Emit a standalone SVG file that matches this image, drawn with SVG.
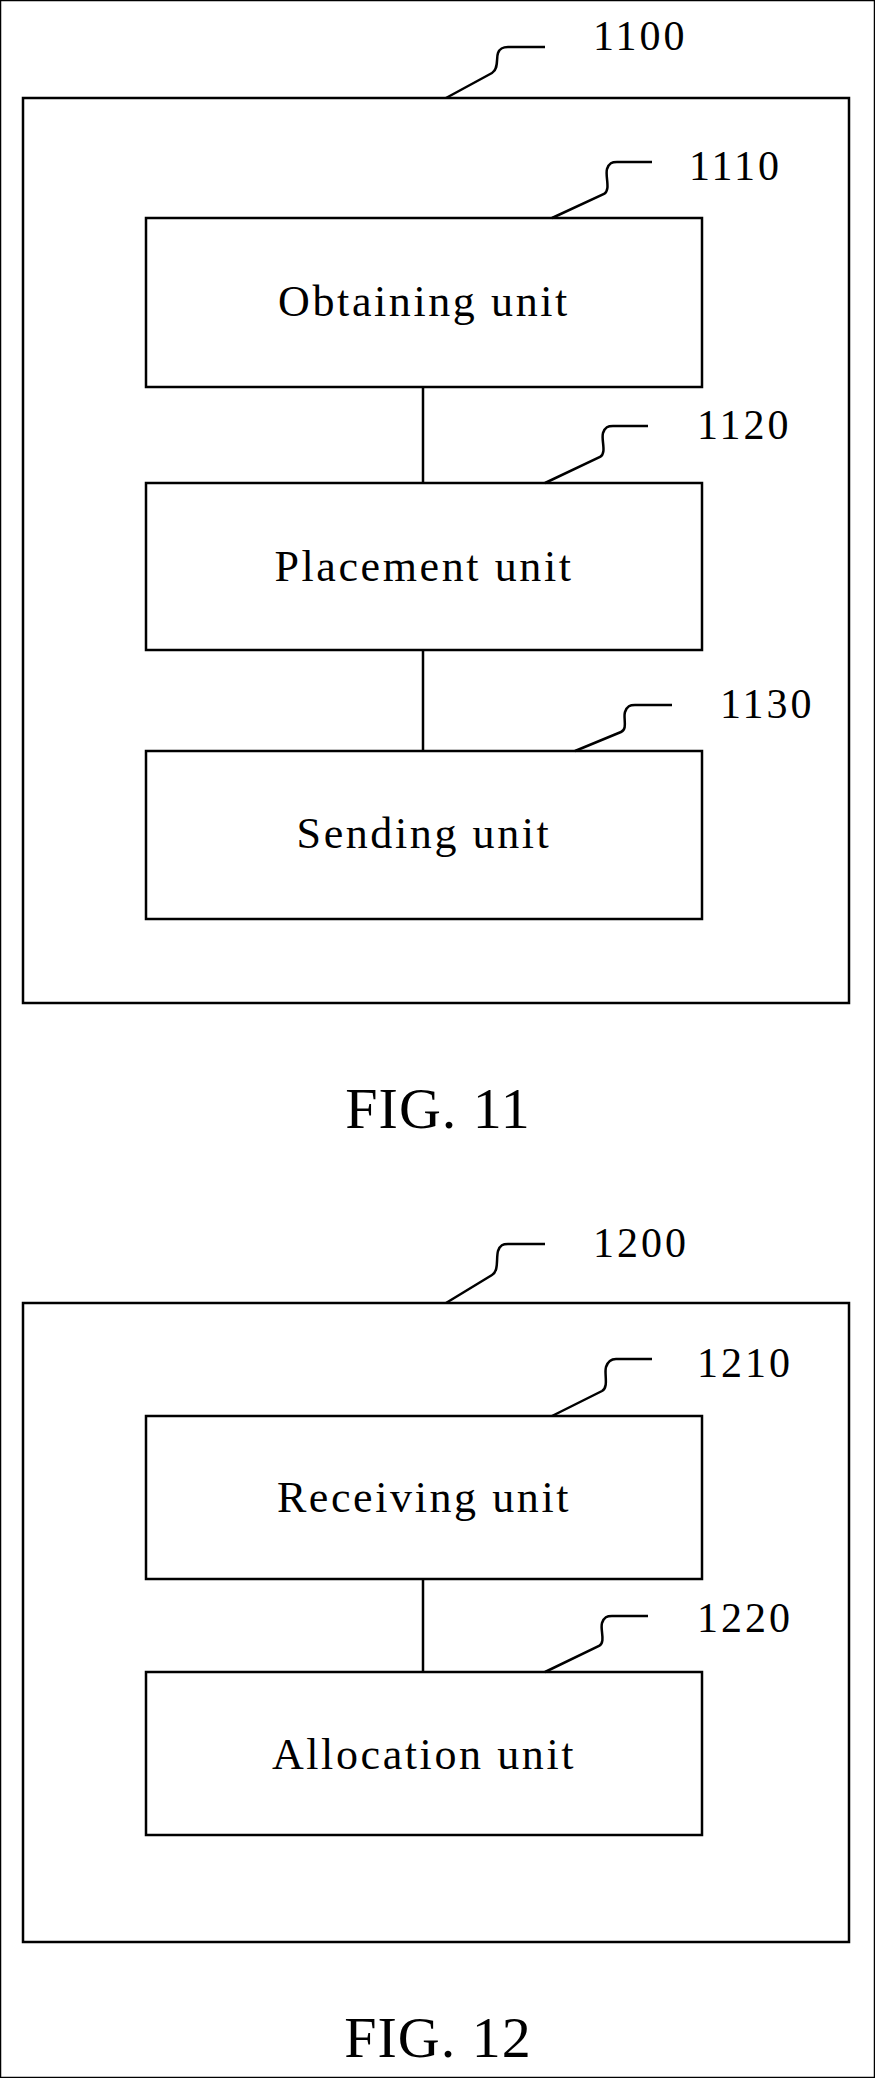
<svg xmlns="http://www.w3.org/2000/svg" width="875" height="2078" viewBox="0 0 875 2078">
<style>
rect{fill:#fff;stroke:#000;stroke-width:2.5}
path,line{fill:none;stroke:#000;stroke-width:2.5}
text{font-family:"Liberation Serif","Times New Roman",serif;fill:#000}
.l{font-size:44px;letter-spacing:2.6px;text-anchor:middle}
.n{font-size:42px;letter-spacing:3px}
.f{font-size:58px;letter-spacing:1px;text-anchor:middle}
</style>
<rect width="875" height="2078" fill="#fff" stroke="none"/>
<g id="n1100"><rect x="23" y="98" width="826" height="905"/>
<path d="M446,98 L492,73 C499,69 496,58 498,53 C500,48 503,47 508,47 L545,47"/><text class="n" x="593" y="50">1100</text></g>
<g id="n1110"><rect x="146" y="218" width="556" height="169"/><text class="l" x="424" y="316">Obtaining unit</text>
<path d="M552,218 L604,194 C611,190 605,176 607,169 C609,163 612,162 617,162 L652,162"/><text class="n" x="689" y="180">1110</text></g>
<g id="n1120"><rect x="146" y="483" width="556" height="167"/><text class="l" x="424" y="581">Placement unit</text>
<path d="M545,483 L600,457 C607,453 601,440 603,433 C605,427 608,426 613,426 L648,426"/><text class="n" x="697" y="439">1120</text></g>
<g id="n1130"><rect x="146" y="751" width="556" height="168"/><text class="l" x="424" y="848">Sending unit</text>
<path d="M575,751 L621,732 C628,729 623,718 625,712 C627,706 630,705 635,705 L672,705"/><text class="n" x="720" y="718">1130</text></g>
<text class="f" x="438" y="1128">FIG. 11</text>
<g id="n1200"><rect x="23" y="1303" width="826" height="639"/>
<path d="M446,1303 L492,1275 C499,1271 496,1258 498,1251 C500,1245 503,1244 508,1244 L545,1244"/><text class="n" x="593" y="1257">1200</text></g>
<g id="n1210"><rect x="146" y="1416" width="556" height="163"/><text class="l" x="424" y="1512">Receiving unit</text>
<path d="M552,1416 L602,1391 C609,1387 604,1374 606,1367 C608,1361 611,1359 616,1359 L652,1359"/><text class="n" x="697" y="1377">1210</text></g>
<g id="n1220"><rect x="146" y="1672" width="556" height="163"/><text class="l" x="424" y="1769">Allocation unit</text>
<path d="M545,1672 L599,1646 C606,1642 600,1630 602,1623 C604,1617 607,1616 612,1616 L648,1616"/><text class="n" x="697" y="1632">1220</text></g>
<text class="f" x="438" y="2057">FIG. 12</text>
<g id="connectors">
<line x1="423" y1="387" x2="423" y2="483"/>
<line x1="423" y1="650" x2="423" y2="751"/>
<line x1="423" y1="1579" x2="423" y2="1672"/>
</g>
</svg>
